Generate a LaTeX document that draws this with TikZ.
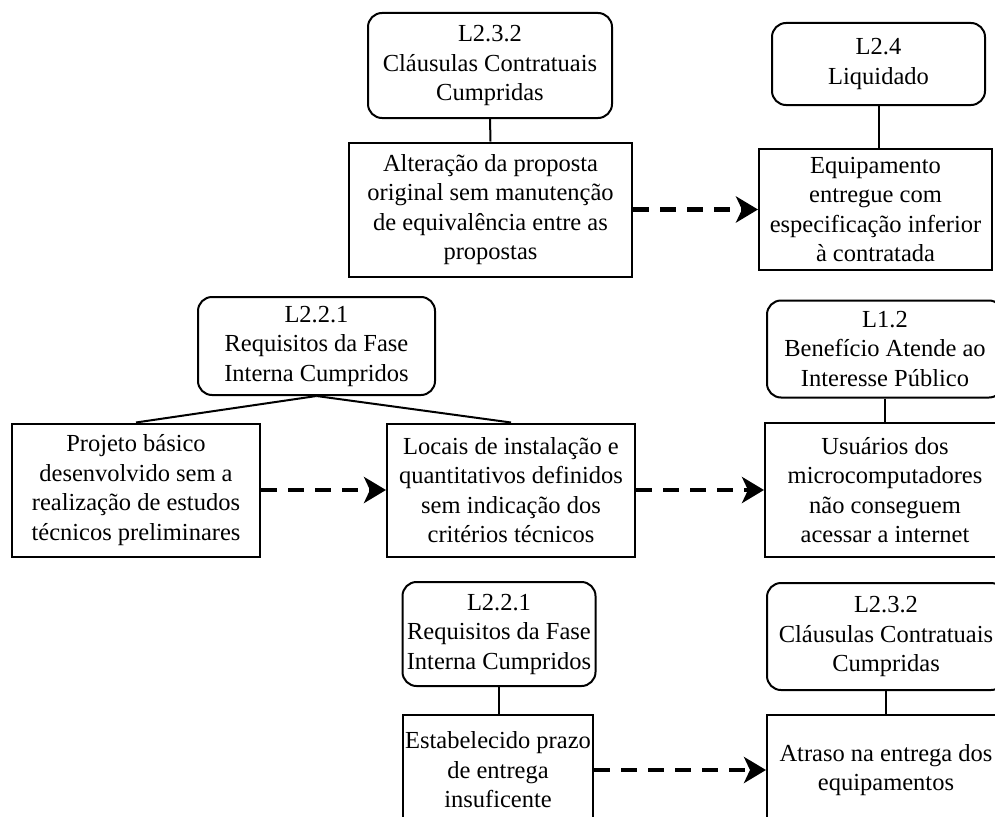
\documentclass[tikz,border=0pt]{standalone}
\usepackage{fontspec}
\setmainfont{Liberation Serif}
\usepackage{tikz}
\usetikzlibrary{arrows.meta, positioning}

\begin{document}
\begin{tikzpicture}[x=1pt, y=-1pt,
    nivel/.style={draw, line width=2pt, rounded corners=14pt, align=center,
      inner sep=0pt, font=\fontsize{24.5}{29.5}\selectfont},
    achado/.style={draw, line width=2pt, align=center, inner sep=0pt,
      font=\fontsize{24.5}{29.5}\selectfont},
    liga/.style={line width=2pt},
    causa/.style={line width=4.5pt, dash pattern=on 16pt off 11pt,
      -{Stealth[length=22pt, width=26pt, inset=6pt]}}]
      \useasboundingbox (0,0) rectangle (995,816);
      \clip (0,0) rectangle (995,816);

      \node[nivel, minimum width=244, minimum height=105] (n1) at (490, 65.5)
        {L2.3.2\\Cláusulas Contratuais\\Cumpridas};
      \node[achado, minimum width=283, minimum height=134] (a1) at (490.5, 209.5)
        {Alteração da proposta\\original sem manutenção\\de equivalência entre as\\propostas};
      \node[nivel, minimum width=213, minimum height=82] (n2) at (878.5, 64)
        {L2.4\\Liquidado};
      \node[achado, minimum width=233, minimum height=121] (a2) at (875.5, 209.5)
        {Equipamento\\entregue com\\especificação inferior\\à contratada};

      \node[nivel, minimum width=237, minimum height=98] (n3) at (316.5, 346)
        {L2.2.1\\Requisitos da Fase\\Interna Cumpridos};
      \node[achado, minimum width=248, minimum height=133] (a3) at (136, 490)
        {Projeto básico\\desenvolvido sem a\\realização de estudos\\técnicos preliminares};
      \node[achado, minimum width=248, minimum height=133] (a4) at (511, 490)
        {Locais de instalação e\\quantitativos definidos\\sem indicação dos\\critérios técnicos};
      \node[nivel, minimum width=236, minimum height=97] (n4) at (885, 349)
        {L1.2\\Benefício Atende ao\\Interesse Público};
      \node[achado, minimum width=240, minimum height=134] (a5) at (885, 490)
        {Usuários dos\\microcomputadores\\não conseguem\\acessar a internet};

      \node[nivel, minimum width=193, minimum height=104] (n5) at (499, 634)
        {L2.2.1\\Requisitos da Fase\\Interna Cumpridos};
      \node[achado, minimum width=190, minimum height=110] (a6) at (498, 770)
        {Estabelecido prazo\\de entrega\\insuficente};
      \node[nivel, minimum width=238, minimum height=107] (n6) at (886, 636.5)
        {L2.3.2\\Cláusulas Contratuais\\Cumpridas};
      \node[achado, minimum width=238, minimum height=110] (a7) at (886, 770)
        {Atraso na entrega dos\\equipamentos};

      \draw[liga] (n1.south) -- (a1.north);
      \draw[liga] (n2.south) -- (n2.south |- a2.north);
      \draw[liga] (n3.south) -- (a3.north);
      \draw[liga] (n3.south) -- (a4.north);
      \draw[liga] (n4.south) -- (a5.north);
      \draw[liga] (n5.south) -- (n5.south |- a6.north);
      \draw[liga] (n6.south) -- (a7.north);

      \draw[causa] (a1.east) -- (a2.west);
      \draw[causa] (a3.east) -- (a4.west);
      \draw[causa] (a4.east) -- (a5.west);
      \draw[causa] (a6.east) -- (a7.west);
    \end{tikzpicture}
\end{document}
